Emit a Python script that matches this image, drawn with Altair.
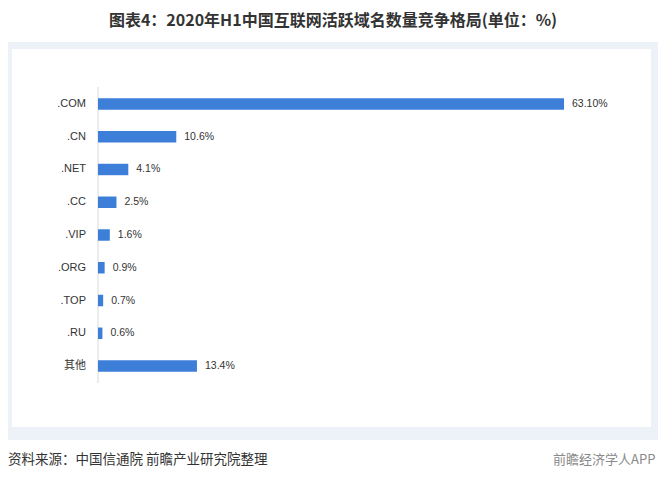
import altair as alt
import pandas as pd

categories = [".COM", ".CN", ".NET", ".CC", ".VIP", ".ORG", ".TOP", ".RU", "其他"]
values = [63.1, 10.6, 4.1, 2.5, 1.6, 0.9, 0.7, 0.6, 13.4]
value_labels = ["63.10%", "10.6%", "4.1%", "2.5%", "1.6%", "0.9%", "0.7%", "0.6%", "13.4%"]

title_text = "图表4：2020年H1中国互联网活跃域名数量竞争格局(单位：%)"
source_text = "资料来源：中国信通院  前瞻产业研究院整理"
brand_text = "前瞻经济学人APP"

df = pd.DataFrame({"cat": categories, "val": values, "lab": value_labels})

FONT = "Liberation Sans, Noto Sans CJK SC, sans-serif"
CJK = "Noto Sans CJK SC, sans-serif"
BAR = "#3d7fd8"

W, H = 650, 464

xscale = alt.Scale(domain=[0, 63.1], range=[90, 556])
yscale = alt.Scale(domain=categories, range=[79.6, 374.4], paddingInner=0.65, paddingOuter=0.325)

base = alt.Chart(df)

band_bg = alt.Chart(pd.DataFrame({"a": [0]})).mark_rect(color="#edf1f8").encode(
    x=alt.value(0), x2=alt.value(W), y=alt.value(34), y2=alt.value(432)
)
inner_bg = alt.Chart(pd.DataFrame({"a": [0]})).mark_rect(color="#ffffff").encode(
    x=alt.value(4), x2=alt.value(643), y=alt.value(41), y2=alt.value(419)
)

axis_line = alt.Chart(pd.DataFrame({"a": [0]})).mark_rule(color="#d9d9d9", strokeWidth=1).encode(
    x=alt.value(90), y=alt.value(79), y2=alt.value(375)
)

bars = base.mark_bar(color=BAR).encode(
    x=alt.X("val:Q", scale=xscale, axis=None),
    x2=alt.datum(0),
    y=alt.Y("cat:N", scale=yscale, axis=None, sort=categories),
)

cat_labels = base.mark_text(align="right", baseline="middle", font=FONT, fontSize=11, color="#333333").encode(
    x=alt.value(78),
    y=alt.Y("cat:N", scale=yscale, axis=None, sort=categories),
    text="cat:N",
)

val_labels = base.mark_text(align="left", baseline="middle", dx=8, font=FONT, fontSize=10.5, color="#333333").encode(
    x=alt.X("val:Q", scale=xscale, axis=None),
    y=alt.Y("cat:N", scale=yscale, axis=None, sort=categories),
    text="lab:N",
)

title = alt.Chart(pd.DataFrame({"t": [title_text]})).mark_text(
    align="center", baseline="middle", font=CJK, fontSize=16, fontWeight="bold", color="#333333"
).encode(x=alt.value(W / 2), y=alt.value(13), text="t:N")

source = alt.Chart(pd.DataFrame({"t": [source_text]})).mark_text(
    align="left", baseline="middle", font=CJK, fontSize=13.5, color="#333333"
).encode(x=alt.value(0), y=alt.value(452), text="t:N")

brand = alt.Chart(pd.DataFrame({"t": [brand_text]})).mark_text(
    align="left", baseline="middle", font=CJK, fontSize=13, color="#8a8a8a"
).encode(x=alt.value(545), y=alt.value(452), text="t:N")

chart = alt.layer(
    band_bg, inner_bg, axis_line, bars, cat_labels, val_labels, title, source, brand
).properties(
    width=W, height=H, padding=0, autosize=alt.AutoSizeParams(type="none"), background="white"
).configure_view(stroke=None)

chart.save("out.html", embed_options={"renderer": "svg", "actions": False})
